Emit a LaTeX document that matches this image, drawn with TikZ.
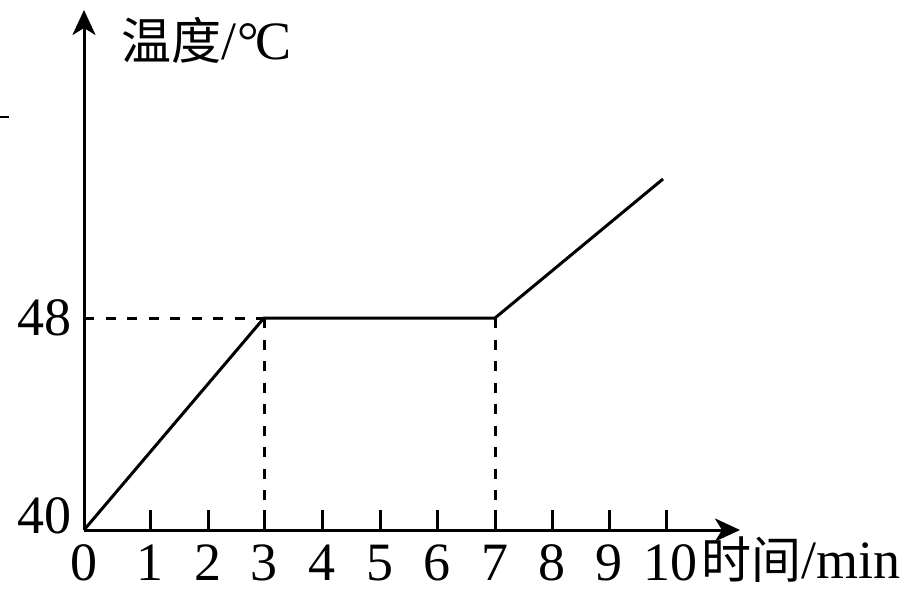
\documentclass[tikz,border=0pt]{standalone}
\usepackage{fontspec}
\setmainfont{Liberation Serif}
\newfontfamily\cjk{Noto Sans CJK SC}
\usetikzlibrary{arrows.meta}
\tikzset{
  axis/.style={line width=3pt,-{Stealth[length=25pt,width=23pt,inset=7pt]}},
  curve/.style={line width=3pt,line join=miter},
  guide/.style={line width=3pt,dash pattern=on 10pt off 11.5pt},
  tickmark/.style={line width=3pt},
  num/.style={font=\fontsize{54}{60}\selectfont,inner sep=0pt},
  lab/.style={font=\fontsize{54}{60}\selectfont,inner sep=0pt},
  cj/.style={font=\fontsize{50}{60}\selectfont\cjk,inner sep=0pt}
}
\begin{document}
\begin{tikzpicture}[x=1pt,y=-1pt]
\useasboundingbox (0,0) rectangle (916,591);
\coordinate (O) at (84,530);
\coordinate (Ytop) at (84,10);
\coordinate (Xend) at (740,530);
\coordinate (Y48) at (84,318);
\coordinate (A) at (264,318);
\coordinate (B) at (495,318);
\coordinate (C) at (663,179);
\coordinate (A0) at (264,530);
\coordinate (B0) at (495,530);
\coordinate (m1) at (0,117.5);
\coordinate (m2) at (9,117.5);
% stray mark at the left edge
\draw[line width=2pt] (m1) -- (m2);
% axes
\draw[axis] (O) -- (Ytop);
\draw[axis] (O) -- (Xend);
% ticks
\foreach \i/\x in {1/150,2/208,4/322,5/380,6/437,8/552,9/609,10/666}{
  \coordinate (t\i) at (\x,530);
  \coordinate (u\i) at (\x,510);
  \draw[tickmark] (t\i) -- (u\i);
}
\coordinate (u3) at (264,510);
\coordinate (u7) at (495,510);
\draw[tickmark] (A0) -- (u3);
\draw[tickmark] (B0) -- (u7);
\coordinate (Y48t) at (92,318);
\draw[tickmark] (Y48) -- (Y48t);
% guides
\draw[guide] (Y48) -- (A);
\draw[guide] (A) -- (A0);
\draw[guide] (B) -- (B0);
% curve
\draw[curve] (O) -- (A) -- (B) -- (C);
% labels on x axis
\foreach \n/\x in {0/84,1/150,2/208,3/264,4/322,5/380,6/437,7/495,8/552,9/609}{
  \node[num,anchor=base] (n\n) at (\x,580) {\n};
}
\node[num,anchor=base] (n10) at (670,580) {10};
\node[cj,anchor=base west] (xl) at (701,578) {时间};
\node[lab,anchor=base west] (xu) at (xl.base east) {/min};
% labels on y axis
\node[num,anchor=base east] (l48) at (72,335) {48};
\node[num,anchor=base east] (l40) at (72,533) {40};
\node[cj,anchor=base west] (yl) at (121,60) {温度};
\node[lab,anchor=base west] (yu) at (yl.base east) {/\kern1pt°\kern-4pt C};
\end{tikzpicture}
\end{document}
